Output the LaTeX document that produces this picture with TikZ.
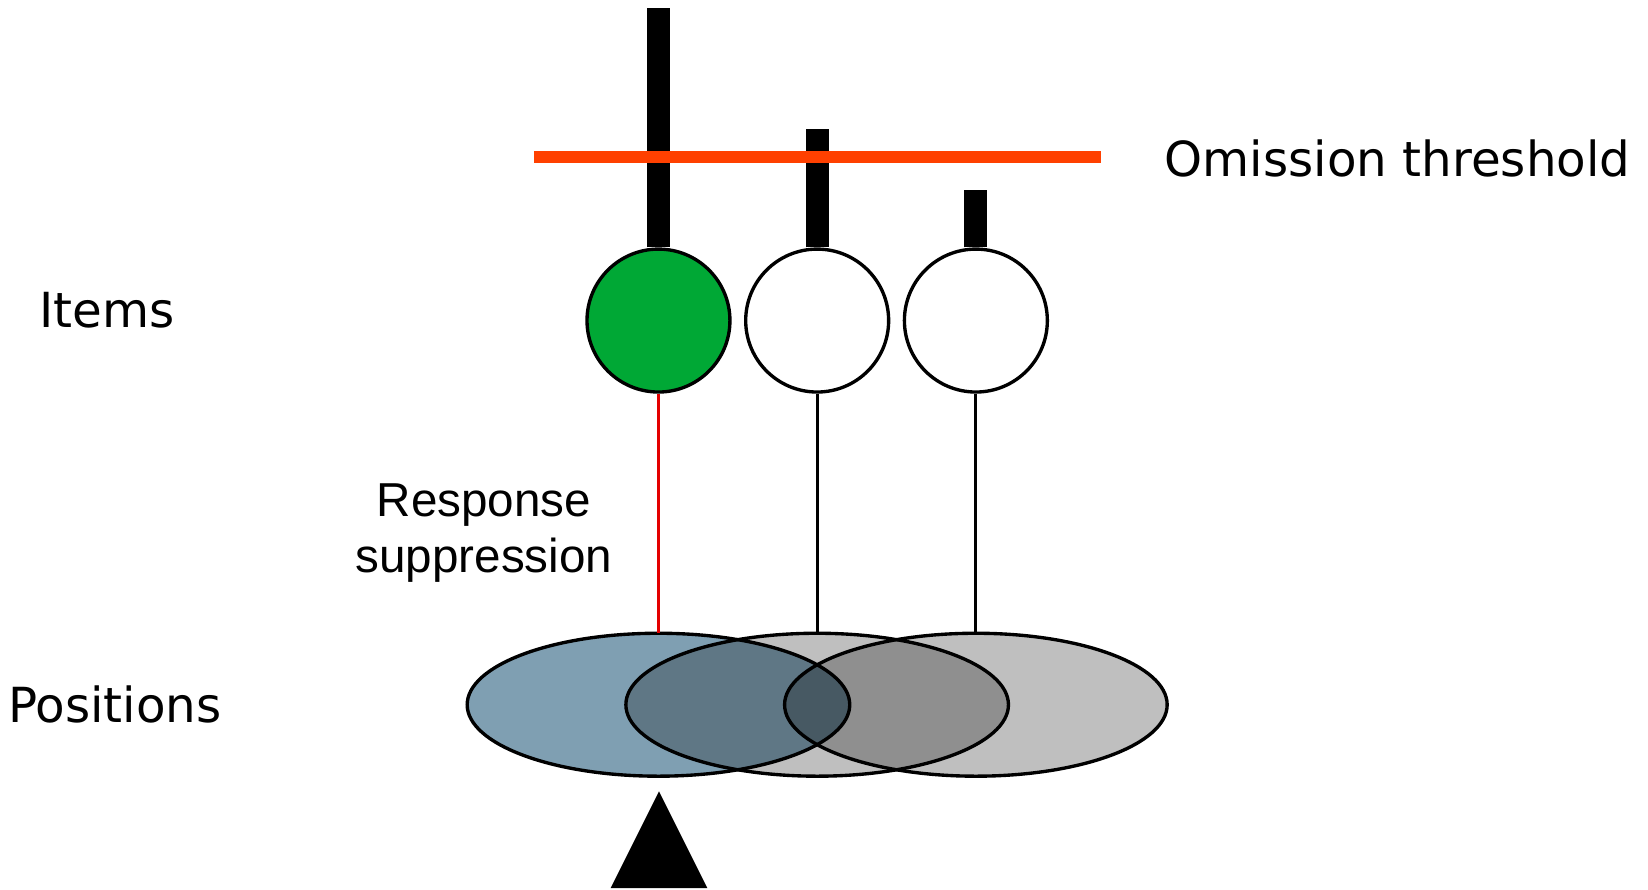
\documentclass[tikz,border=0pt]{standalone}
\usepackage{fontspec}
\setmainfont{DejaVu Sans}
\newfontfamily\respfont{Liberation Sans}
\usepackage{tikz}
\usetikzlibrary{shapes.geometric}
\definecolor{itemgreen}{RGB}{0,168,53}
\definecolor{threshorange}{RGB}{255,64,0}
\definecolor{posblue}{RGB}{127,159,178}
\definecolor{suppred}{RGB}{228,0,0}

\tikzset{
  item/.style={circle, draw, line width=3.2pt, minimum size=136pt, inner sep=0pt, fill=white},
  position/.style={ellipse, draw, line width=3.2pt, minimum width=364pt, minimum height=136pt, inner sep=0pt, outer sep=0pt},
  strength/.style={line width=22pt},
  label/.style={inner sep=0pt, font=\fontsize{46}{54}\selectfont}
}

\begin{document}
\begin{tikzpicture}[x=1pt, y=-1pt]
	\useasboundingbox (0,0) rectangle (1568,846);

	\node[item, fill=itemgreen] (I1) at (626.5,305) {};
	\node[item] (I2) [right of = I1, node distance=151pt] {};
	\node[item] (I3) [right of = I2, node distance=151pt] {};

	\coordinate (T1) at (626.5,8);
	\coordinate (T2) at (777.5,123);
	\coordinate (T3) at (928.5,181);
	\draw[strength] (I1.north) -- (T1);
	\draw[strength] (I2.north) -- (T2);
	\draw[strength] (I3.north) -- (T3);

	\coordinate (thl) at (508,149.4);
	\coordinate (thr) at (1048,149.4);
	\draw[threshorange, line width=11.5pt] (thl) -- (thr);

	\node[position, fill=posblue] (P1) [below of = I1, node distance=365.5pt] {};
	\node[position, fill=black, fill opacity=0.25] (P2) [right of = P1, node distance=151pt] {};
	\node[position, fill=black, fill opacity=0.25] (P3) [right of = P2, node distance=151pt] {};

  \path (I1) edge [suppred, line width=3pt] (P1);
  \path (I2) edge [line width=3pt] (P2);
  \path (I3) edge [line width=3pt] (P3);

	\coordinate (cue) at (627,753);
	\fill (cue) -- ++(-46,92) -- ++(92,0) -- cycle;

	\node[label, anchor=base west] (thresh) at (1108,168.4) {Omission threshold};
	\node[label, anchor=base west] (items) at (37,312) {Items};
	\node[label, anchor=base west] (positions) at (7.5,687) {Positions};
	\node[label, font=\respfont\fontsize{45.3}{53.3}\selectfont, align=center, anchor=base] (supp) at (460.5,545) {Response\\suppression};

  \end{tikzpicture}
\end{document}
